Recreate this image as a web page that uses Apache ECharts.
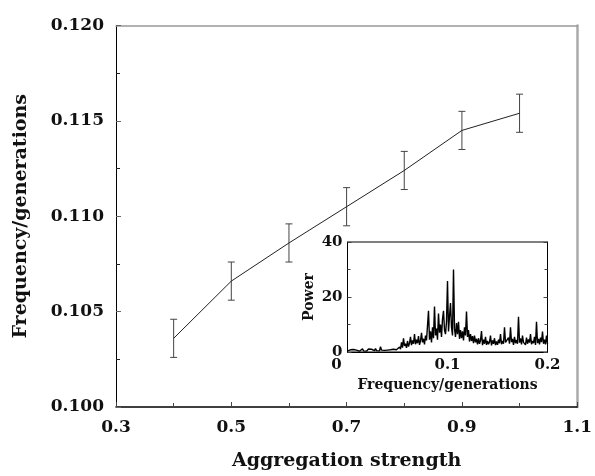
<!DOCTYPE html>
<html>
<head>
<meta charset="utf-8">
<script src="https://cdn.jsdelivr.net/npm/echarts@6/dist/echarts.min.js"></script>
<style>
  html, body { margin: 0; padding: 0; background: #fff; }
  #chart { width: 595px; height: 476px; }
</style>
</head>
<body>
<div id="chart"></div>
<script>
// Main panel data
const aggregation = [0.4, 0.5, 0.6, 0.7, 0.8, 0.9, 1.0];
const frequency = [0.1036, 0.1066, 0.1086, 0.1105, 0.1124, 0.1145, 0.1154];
const errors = [0.0010, 0.0010, 0.0010, 0.0010, 0.0010, 0.0010, 0.0010];

// Inset power spectrum (sampled at fixed frequency step)
const specStart = 0;
const specStep = 0.001;
const power = [
  0.4,0.7,0.3,0.8,0.5,0.3,0.9,0.6,0.4,0.7,
  1.0,0.5,0.3,0.9,0.6,1.2,0.4,0.6,0.8,0.3,
  0.7,1.1,0.5,0.6,1.0,0.4,0.8,0.5,1.3,0.5,
  0.6,1.0,0.4,1.9,0.7,0.5,0.9,0.6,1.1,0.4,
  0.7,1.2,0.5,0.8,1.5,0.5,1.0,0.6,1.2,0.8,
  1.4,0.8,1.8,1.0,3.5,1.6,5.0,2.2,3.0,1.5,
  4.0,2.0,3.2,5.5,2.5,4.2,3.0,6.5,2.8,4.5,
  3.2,5.8,2.6,4.0,7.0,3.5,4.8,2.8,6.0,4.2,
  3.8,15.0,4.5,7.5,3.5,9.0,5.0,16.5,6.0,8.5,
  4.5,14.0,7.0,10.0,5.5,12.0,15.0,8.0,6.5,11.0,
  25.8,7.5,13.0,17.8,9.0,6.0,30.0,8.5,5.5,10.5,
  6.5,11.0,4.8,8.0,5.0,7.5,4.2,9.0,6.0,14.7,
  5.5,8.0,3.8,6.5,4.0,5.8,3.2,6.0,3.5,4.8,
  2.8,5.0,3.0,4.2,7.6,2.5,4.5,3.0,5.5,2.6,
  4.0,2.8,3.6,6.0,2.4,4.2,3.0,5.0,2.5,3.8,
  2.6,4.5,3.2,6.5,2.8,4.0,3.0,9.0,3.5,4.2,
  2.8,5.2,3.0,9.0,3.6,4.8,2.6,5.5,3.2,4.4,
  3.0,12.8,3.4,5.0,2.8,6.0,3.5,4.2,2.6,5.2,
  3.0,4.6,3.4,6.5,2.8,4.0,3.2,5.5,2.6,11.0,
  3.2,4.8,2.8,5.2,3.6,7.4,3.0,4.5,2.8,6.0,
  3.0
];

const FONT = 'DejaVu Serif';
const mainLine = aggregation.map((x, i) => [x, frequency[i]]);
const errData = aggregation.map((x, i) => [x, frequency[i], errors[i]]);
const specData = power.map((p, i) => [specStart + i * specStep, p]);

const chart = echarts.init(document.getElementById('chart'), null, { renderer: 'canvas' });
chart.setOption({
  animation: false,
  backgroundColor: '#fff',
  grid: [
    { left: 116, top: 25.5, width: 462, height: 381.5, containLabel: false },
    { left: 347.5, top: 242, width: 200, height: 110, containLabel: false,
      show: true, backgroundColor: '#fff', borderColor: '#000', borderWidth: 1, z: 5 }
  ],
  xAxis: [
    {
      gridIndex: 0, type: 'value', min: 0.3, max: 1.1, interval: 0.2,
      name: 'Aggregation strength', nameLocation: 'middle', nameGap: 45,
      nameTextStyle: { fontFamily: FONT, fontSize: 19, color: '#111', fontWeight: 'bold' },
      axisLine: { show: true, lineStyle: { color: '#000', width: 1.5 } },
      axisTick: { show: true, inside: true, length: 5, lineStyle: { color: '#444' } },
      minorTick: { show: true, splitNumber: 2, length: 4, lineStyle: { color: '#444' } },
      splitLine: { show: false },
      axisLabel: { fontFamily: FONT, fontSize: 17, fontWeight: 'bold', color: '#111', margin: 12,
        formatter: v => v.toFixed(1) }
    },
    {
      gridIndex: 0, type: 'value', position: 'top', min: 0.3, max: 1.1,
      axisLine: { show: true, lineStyle: { color: '#999', width: 1.5 } },
      axisTick: { show: false }, axisLabel: { show: false }, splitLine: { show: false }
    },
    {
      gridIndex: 1, type: 'value', min: 0, max: 0.2, interval: 0.1,
      name: 'Frequency/generations', nameLocation: 'middle', nameGap: 26,
      nameTextStyle: { fontFamily: FONT, fontSize: 14, color: '#111', fontWeight: 'bold' },
      axisLine: { show: true, lineStyle: { color: '#000', width: 1 } },
      axisTick: { show: false },
      splitLine: { show: false },
      axisLabel: { fontFamily: FONT, fontSize: 15, fontWeight: 'bold', color: '#111', margin: 6,
        formatter: v => (v === 0 ? '{z|0}' : v.toFixed(1)),
        rich: { z: { fontFamily: FONT, fontSize: 15, fontWeight: 'bold', color: '#111', padding: [0, 22, 0, 0] } } },
      z: 6
    }
  ],
  yAxis: [
    {
      gridIndex: 0, type: 'value', min: 0.1, max: 0.12, interval: 0.005,
      name: 'Frequency/generations', nameLocation: 'middle', nameGap: 85,
      nameTextStyle: { fontFamily: FONT, fontSize: 19, color: '#111', fontWeight: 'bold' },
      axisLine: { show: true, lineStyle: { color: '#000', width: 1 } },
      axisTick: { show: true, inside: true, length: 5, lineStyle: { color: '#666' } },
      minorTick: { show: true, splitNumber: 2, length: 4, lineStyle: { color: '#222' } },
      splitLine: { show: false },
      axisLabel: { fontFamily: FONT, fontSize: 17, fontWeight: 'bold', color: '#111', margin: 12,
        formatter: v => v.toFixed(3) }
    },
    {
      gridIndex: 0, type: 'value', position: 'right', min: 0.1, max: 0.12,
      axisLine: { show: true, lineStyle: { color: '#aaa', width: 2.5 } },
      axisTick: { show: false }, axisLabel: { show: false }, splitLine: { show: false }
    },
    {
      gridIndex: 1, type: 'value', min: 0, max: 40, interval: 20,
      name: 'Power', nameLocation: 'middle', nameGap: 31,
      nameTextStyle: { fontFamily: FONT, fontSize: 14, color: '#111', fontWeight: 'bold' },
      axisLine: { show: true, lineStyle: { color: '#000', width: 1 } },
      axisTick: { show: true, inside: true, length: 4, lineStyle: { color: '#444' } },
      minorTick: { show: true, splitNumber: 2, length: 3, lineStyle: { color: '#444' } },
      splitLine: { show: false },
      axisLabel: { fontFamily: FONT, fontSize: 15, fontWeight: 'bold', color: '#111', margin: 5 },
      z: 6
    },
    {
      gridIndex: 1, type: 'value', position: 'right', min: 0, max: 40, interval: 20,
      axisLine: { show: true, lineStyle: { color: '#000', width: 1 } },
      axisTick: { show: true, inside: true, length: 4, lineStyle: { color: '#444' } },
      minorTick: { show: true, splitNumber: 2, length: 3, lineStyle: { color: '#444' } },
      axisLabel: { show: false }, splitLine: { show: false }, z: 6
    }
  ],
  series: [
    {
      type: 'line', xAxisIndex: 0, yAxisIndex: 0, data: mainLine,
      symbol: 'none', lineStyle: { color: '#222', width: 1 }, z: 3
    },
    {
      type: 'custom', xAxisIndex: 0, yAxisIndex: 0, data: errData, z: 3,
      renderItem: function (params, api) {
        const x = api.value(0), y = api.value(1), e = api.value(2);
        const top = api.coord([x, y + e]);
        const bot = api.coord([x, y - e]);
        const hw = 3.5;
        const st = { stroke: '#444', lineWidth: 1 };
        return {
          type: 'group',
          children: [
            { type: 'line', shape: { x1: top[0], y1: top[1], x2: bot[0], y2: bot[1] }, style: st },
            { type: 'line', shape: { x1: top[0] - hw, y1: top[1], x2: top[0] + hw, y2: top[1] }, style: st },
            { type: 'line', shape: { x1: bot[0] - hw, y1: bot[1], x2: bot[0] + hw, y2: bot[1] }, style: st }
          ]
        };
      }
    },
    {
      type: 'line', xAxisIndex: 2, yAxisIndex: 2, data: specData,
      symbol: 'none', lineStyle: { color: '#000', width: 1.4 }, z: 7
    }
  ]
});
</script>
</body>
</html>
